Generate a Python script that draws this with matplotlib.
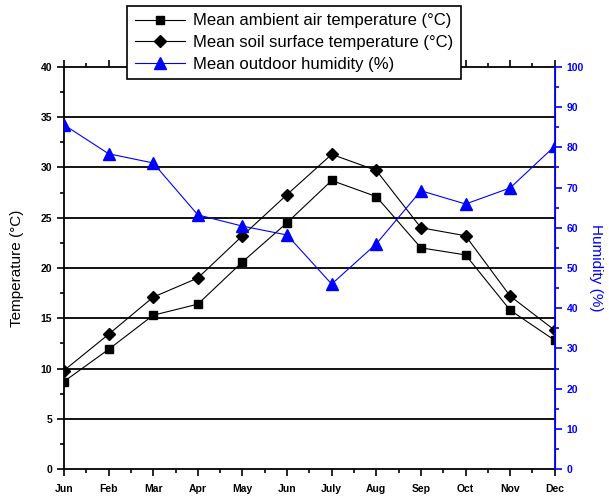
import numpy as np
import matplotlib.pyplot as plt

plt.rcParams['font.family'] = ['Liberation Sans', 'DejaVu Sans']

months = ['Jun', 'Feb', 'Mar', 'Apr', 'May', 'Jun', 'July', 'Aug', 'Sep', 'Oct', 'Nov', 'Dec']
air_temp = [8.7, 11.9, 15.3, 16.4, 20.6, 24.5, 28.7, 27.1, 22.0, 21.3, 15.8, 12.8]
soil_temp = [9.8, 13.4, 17.1, 19.0, 23.2, 27.3, 31.3, 29.7, 24.0, 23.2, 17.2, 13.8]
humidity = [85.6, 78.4, 76.1, 63.2, 60.4, 58.2, 46.0, 56.0, 69.2, 65.9, 69.9, 80.3]

x = np.arange(len(months))

fig = plt.figure(figsize=(6.09, 4.99), dpi=100)
ax1 = fig.add_axes([0.105, 0.060, 0.806, 0.806])
ax2 = ax1.twinx()

# horizontal grid at major ticks
for yv in range(5, 40, 5):
	ax1.axhline(yv, color='black', lw=1.3, zorder=1)

l1, = ax1.plot(x, air_temp, color='black', lw=0.8, marker='s', ms=6,
			   mec='black', zorder=3)
l2, = ax1.plot(x, soil_temp, color='black', lw=0.8, marker='D', ms=6,
			   mec='black', zorder=3)
l3, = ax2.plot(x, humidity, color='blue', lw=0.8, marker='^', ms=8,
			   mec='blue', zorder=3)

ax1.set_xlim(0, 11)
ax1.set_ylim(0, 40)
ax2.set_ylim(0, 100)

ax1.set_xticks(x, months)
ax1.set_xticks(x[:-1] + 0.5, minor=True)
ax1.set_yticks(np.arange(0, 41, 5))
ax1.set_yticks(np.arange(2.5, 40, 5), minor=True)
ax2.set_yticks(np.arange(0, 101, 10))
ax2.set_yticks(np.arange(5, 100, 10), minor=True)

ax1.tick_params(axis='both', which='major', length=5, width=1.2, labelsize=7.5, direction='out')
ax1.tick_params(axis='both', which='minor', length=3, width=1.2, direction='out')
ax1.tick_params(axis='x', top=True, which='both')
ax1.tick_params(axis='x', which='both', pad=6)
for lab in ax1.get_xticklabels() + ax1.get_yticklabels():
	lab.set_fontweight('bold')

ax2.tick_params(axis='y', which='major', length=5, width=1.2, labelsize=7.5,
				colors='blue', direction='out')
ax2.tick_params(axis='y', which='minor', length=3, width=1.2, colors='blue', direction='out')
for lab in ax2.get_yticklabels():
	lab.set_fontweight('bold')

for sp in ['left', 'top', 'bottom']:
	ax1.spines[sp].set_linewidth(1.3)
ax2.spines['right'].set_color('blue')
ax2.spines['right'].set_linewidth(1.3)
ax2.spines['left'].set_visible(False)
ax2.spines['top'].set_visible(False)
ax2.spines['bottom'].set_visible(False)

ax1.set_ylabel('Temperature (\u00b0C)', fontsize=11, labelpad=12)
ax2.set_ylabel('Humidity (%)', fontsize=11, color='blue', rotation=270, labelpad=14)

leg = fig.legend([l1, l2, l3],
				 ['Mean ambient air temperature (\u00b0C)',
				  'Mean soil surface temperature (\u00b0C)',
				  'Mean outdoor humidity (%)'],
				 loc='upper left', bbox_to_anchor=(127/609, 1 - 6/499),
				 borderaxespad=0, fontsize=12, handlelength=3.0, labelspacing=0.4,
				 fancybox=False, framealpha=1, edgecolor='black',
				 borderpad=0.45, handletextpad=0.5)
leg.get_frame().set_linewidth(1.2)

fig.savefig('out.png', dpi=100)
